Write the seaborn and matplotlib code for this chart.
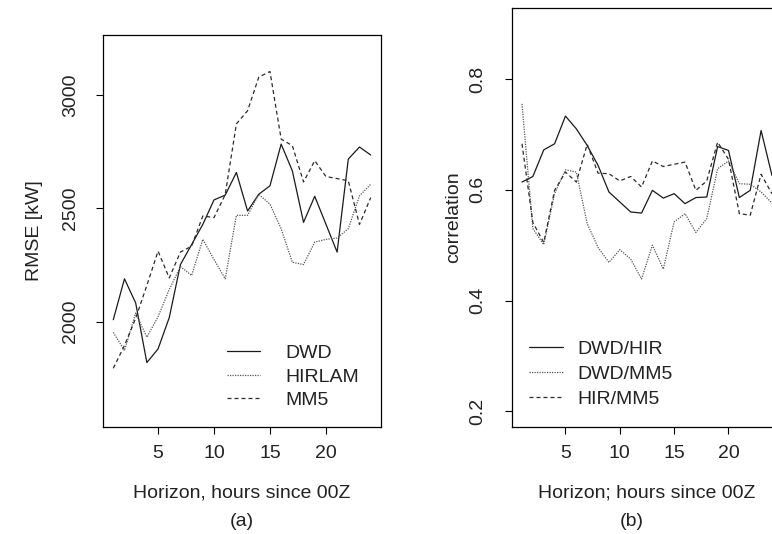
import numpy as np
import pandas as pd
import matplotlib
matplotlib.use("Agg")
import matplotlib.pyplot as plt
import seaborn as sns

# horizon in hours
hours = list(range(1, 25))

# panel (a): RMSE [kW]
rmse_dwd = [2009, 2189, 2083, 1820, 1880, 2018, 2252, 2340, 2429, 2537, 2558, 2658,
            2488, 2562, 2599, 2783, 2665, 2438, 2553, 2430, 2307, 2717, 2770, 2735]
rmse_hirlam = [1953, 1873, 2038, 1932, 2022, 2142, 2243, 2204, 2363, 2274, 2189, 2469,
               2469, 2562, 2518, 2410, 2262, 2252, 2351, 2363, 2369, 2410, 2555, 2606]
rmse_mm5 = [1795, 1895, 2015, 2160, 2311, 2193, 2307, 2333, 2466, 2459, 2560, 2872,
            2930, 3078, 3103, 2805, 2776, 2616, 2710, 2640, 2631, 2621, 2429, 2547]

# panel (b): correlation between forecast errors
corr_dwd_hir = [0.614, 0.624, 0.672, 0.683, 0.733, 0.710, 0.680, 0.644, 0.596, 0.578, 0.560, 0.558,
                0.599, 0.585, 0.593, 0.575, 0.586, 0.587, 0.678, 0.671, 0.586, 0.599, 0.707, 0.626]
corr_dwd_mm5 = [0.755, 0.530, 0.501, 0.593, 0.636, 0.632, 0.539, 0.496, 0.469, 0.492, 0.475, 0.439,
                0.500, 0.457, 0.542, 0.557, 0.523, 0.548, 0.638, 0.652, 0.611, 0.610, 0.596, 0.576]
corr_hir_mm5 = [0.683, 0.541, 0.505, 0.599, 0.632, 0.614, 0.682, 0.630, 0.629, 0.616, 0.624, 0.605,
                0.652, 0.642, 0.646, 0.650, 0.599, 0.616, 0.686, 0.655, 0.557, 0.554, 0.628, 0.593]

sns.set_style("ticks")
plt.rcParams["font.family"] = ["Liberation Sans", "DejaVu Sans"]
plt.rcParams["font.size"] = 14

FS = 14
TXT = "#222222"
DASHED = (0, (3.2, 2.4))
DOTTED = (0, (1.0, 1.0))


def r_style(ax, xlim_data, ylim_data, ypad):
    # R-like 4% padding around the given limits
    for lim, setter in ((xlim_data, ax.set_xlim), (ylim_data, ax.set_ylim)):
        pad = (lim[1] - lim[0]) * 0.04
        setter(lim[0] - pad, lim[1] + pad)
    for s in ax.spines.values():
        s.set_visible(True)
        s.set_color("black")
        s.set_linewidth(0.9)
    ax.tick_params(axis="both", direction="out", length=5, width=0.8, color="black",
                   labelsize=FS, labelcolor=TXT)
    ax.tick_params(axis="x", pad=8)
    ax.tick_params(axis="y", labelrotation=90, pad=ypad)
    for lab in ax.get_yticklabels():
        lab.set_va("center")
    ax.set_xticks([5, 10, 15, 20])


fig = plt.figure(figsize=(7.72, 5.34), dpi=100)
ax1 = fig.add_axes([0.1334, 0.2004, 0.3601, 0.7341])
ax2 = fig.add_axes([0.6632, 0.2004, 0.3497, 0.7846])

sns.lineplot(x=hours, y=rmse_dwd, ax=ax1, color="#1a1a1a", linewidth=0.9, label="DWD")
sns.lineplot(x=hours, y=rmse_hirlam, ax=ax1, color="#555555", linewidth=0.9,
             linestyle=DOTTED, label="HIRLAM")
sns.lineplot(x=hours, y=rmse_mm5, ax=ax1, color="#2a2a2a", linewidth=0.9,
             linestyle=DASHED, label="MM5")
ax1.set_yticks([2000, 2500, 3000])
r_style(ax1, (1, 24), (1600, 3200), ypad=12)
ax1.set_xlabel("Horizon, hours since 00Z", fontsize=FS, color=TXT, va="center")
ax1.set_ylabel("RMSE [kW]", fontsize=FS, color=TXT, va="center")
ax1.xaxis.set_label_coords(0.5, -0.168)
ax1.yaxis.set_label_coords(-0.245, 0.5)
ax1.legend(loc="upper left", bbox_to_anchor=(0.446, 0.21), frameon=False, fontsize=FS,
           handlelength=1.7, handletextpad=1.3, labelspacing=0.3, borderpad=0,
           borderaxespad=0, labelcolor=TXT)

sns.lineplot(x=hours, y=corr_dwd_hir, ax=ax2, color="#1a1a1a", linewidth=0.9, label="DWD/HIR")
sns.lineplot(x=hours, y=corr_dwd_mm5, ax=ax2, color="#555555", linewidth=0.9,
             linestyle=DOTTED, label="DWD/MM5")
sns.lineplot(x=hours, y=corr_hir_mm5, ax=ax2, color="#2a2a2a", linewidth=0.9,
             linestyle=DASHED, label="HIR/MM5")
ax2.set_yticks([0.2, 0.4, 0.6, 0.8])
r_style(ax2, (1, 24), (0.2, 0.9), ypad=13.5)
ax2.set_xlabel("Horizon; hours since 00Z", fontsize=FS, color=TXT, va="center")
ax2.set_ylabel("correlation", fontsize=FS, color=TXT, va="center")
ax2.xaxis.set_label_coords(0.5, -0.158)
ax2.yaxis.set_label_coords(-0.215, 0.5)
ax2.legend(loc="upper left", bbox_to_anchor=(0.063, 0.206), frameon=False, fontsize=FS,
           handlelength=1.75, handletextpad=0.72, labelspacing=0.38, borderpad=0,
           borderaxespad=0, labelcolor=TXT)

fig.text(103 + 278 / 2, 534 - 521, "(a)", transform=None, ha="center", va="center",
         fontsize=FS, color=TXT)
fig.text(632, 534 - 521, "(b)", transform=None, ha="center", va="center",
         fontsize=FS, color=TXT)

fig.savefig("out.png", dpi=100, facecolor="white")
